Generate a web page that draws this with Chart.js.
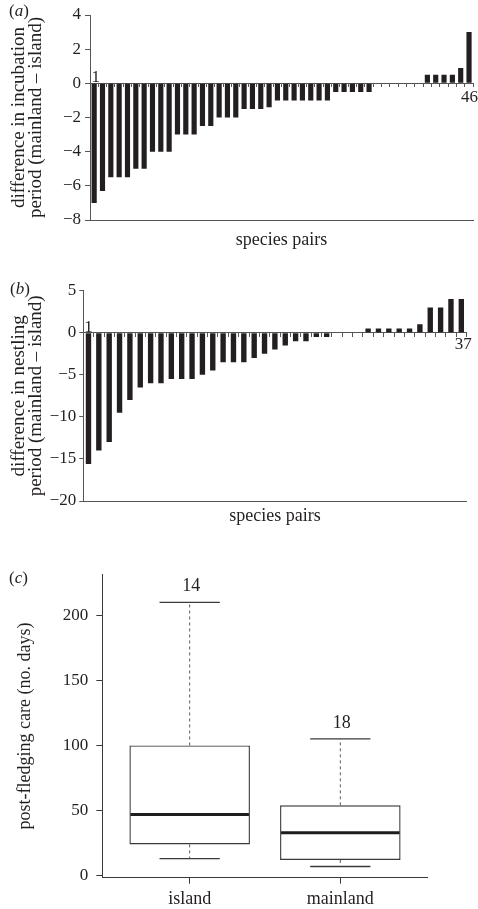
<!DOCTYPE html>
<html><head><meta charset="utf-8">
<script src="https://cdn.jsdelivr.net/npm/chart.js@4/dist/chart.umd.min.js"></script>
<style>
html,body{margin:0;padding:0;background:#fff;width:478px;height:909px;overflow:hidden;position:relative;}
canvas{position:absolute;left:0;}
.lab{position:absolute;font-family:"Liberation Serif","Times New Roman",serif;font-size:17px;line-height:17px;color:#231f20;white-space:nowrap;}
</style></head><body>
<canvas id="ca" width="478" height="262" style="top:0;width:478px;height:262px"></canvas>
<canvas id="cb" width="478" height="268" style="top:262px;width:478px;height:268px"></canvas>
<canvas id="cc" width="478" height="379" style="top:530px;width:478px;height:379px"></canvas>
<div class="lab" style="left:9px;top:2px">(<i>a</i>)</div>
<div class="lab" style="left:10px;top:280px">(<i>b</i>)</div>
<div class="lab" style="left:9px;top:569px">(<i>c</i>)</div>
<script>
// ---- data ----
const incubationDiff = [-7, -6.3, -5.5, -5.5, -5.5, -5, -5, -4, -4, -4, -3, -3, -3, -2.5, -2.5, -2, -2, -2,
  -1.5, -1.5, -1.5, -1.4, -1, -1, -1, -1, -1, -1, -1, -0.5, -0.5, -0.5, -0.5, -0.5,
  0, 0, 0, 0, 0, 0, 0.5, 0.5, 0.5, 0.5, 0.9, 3];
const nestlingDiff = [-15.6, -14, -13, -9.5, -8, -6.5, -6, -6, -5.5, -5.5, -5.5, -5, -4.5, -3.5, -3.5, -3.5,
  -3, -2.5, -2, -1.5, -1, -1, -0.5, -0.5, 0, 0, 0, 0.5, 0.5, 0.5, 0.5, 0.5, 1, 3, 3, 4, 4];
const yTicksA = [-8, -6, -4, -2, 0, 2, 4];
const yTicksB = [-20, -15, -10, -5, 0, 5];
const yTicksC = [0, 50, 100, 150, 200];

const groups = ['island', 'mainland'];
const groupN = [14, 18];
const whiskerLow = [13, 7];
const q1 = [24, 12];
const median = [47, 33];
const q3 = [100, 54];
const whiskerHigh = [210, 105];

// ---- style ----
const INK = '#231f20';
const AXIS = '#555555';
const FONT = '"Liberation Serif", "Times New Roman", serif';
const minus = v => String(v).replace('-', '\u2212');

const endLabelPlugin = {
  id: 'endLabels',
  afterDatasetsDraw(chart, args, o) {
    const xs = chart.scales.x, ys = chart.scales.y, ctx = chart.ctx;
    const labels = chart.data.labels, n = labels.length;
    const y0 = ys.getPixelForValue(0);
    ctx.save();
    ctx.fillStyle = INK;
    ctx.font = '17px ' + FONT;
    ctx.textAlign = 'center';
    ctx.textBaseline = 'alphabetic';
    ctx.fillText(labels[0], xs.getPixelForValue(0) + o.firstDx, y0 - o.firstGap);
    ctx.textBaseline = 'top';
    ctx.fillText(labels[n - 1], xs.getPixelForValue(n - 1) + o.lastDx, y0 + o.lastGap);
    ctx.restore();
  }
};

function barPanel(id, values, ticks, c) {
  const labels = values.map((_, i) => String(i + 1));
  return new Chart(document.getElementById(id), {
    type: 'bar',
    data: { labels, datasets: [{ data: values, backgroundColor: INK, borderWidth: 0,
      barPercentage: c.barPct, categoryPercentage: 1, xAxisID: 'x', yAxisID: 'y' }] },
    options: {
      responsive: false, animation: false, events: [],
      layout: { padding: { left: 0, right: c.padR, top: c.padT, bottom: 0 } },
      plugins: { legend: { display: false }, tooltip: { enabled: false },
        endLabels: { firstDx: c.firstDx, firstGap: c.firstGap, lastDx: c.lastDx, lastGap: c.lastGap } },
      scales: {
        x: { type: 'category', position: 'bottom', offset: true,
          grid: { display: false }, border: { display: true, color: AXIS, width: 1 },
          ticks: { display: false },
          title: { display: true, text: 'species pairs', color: INK, font: { family: FONT, size: 18 },
            padding: { top: 0, bottom: c.xTitlePad } },
          afterFit: s => { s.height = c.xH; } },
        x2: { axis: 'x', type: 'category', position: { y: 0 }, offset: true,
          grid: { display: true, offset: true, drawOnChartArea: false, drawTicks: true,
            tickLength: c.zeroTick, color: AXIS, lineWidth: 1 },
          border: { display: true, color: AXIS, width: 1 },
          ticks: { display: false } },
        y: { type: 'linear', position: 'left', min: ticks[0], max: ticks[ticks.length - 1],
          afterBuildTicks: s => { s.ticks = ticks.map(v => ({ value: v })); },
          grid: { display: true, drawOnChartArea: false, tickLength: c.yTick, color: AXIS },
          border: { display: true, color: AXIS, width: 1 },
          ticks: { color: INK, font: { family: FONT, size: 17 }, padding: c.yLabPad, callback: v => minus(v) },
          title: { display: true, text: c.yTitle, color: INK,
            font: { family: FONT, size: 19, lineHeight: 0.9 }, padding: { top: c.yTitlePad, bottom: 0 } },
          afterFit: s => { s.width = c.yW; } }
      }
    },
    plugins: [endLabelPlugin]
  });
}

barPanel('ca', incubationDiff, yTicksA, {
  barPct: 0.62, padR: 4.8, padT: 15, xH: 42, xTitlePad: 11, yW: 90, yTick: 5, yLabPad: 4,
  yTitlePad: 10, zeroTick: 3, firstDx: 1.5, firstGap: 1.5, lastDx: 0.5, lastGap: 5.5,
  yTitle: ['difference in incubation', 'period (mainland \u2013 island)']
});
barPanel('cb', nestlingDiff, yTicksB, {
  barPct: 0.52, padR: 11.5, padT: 28.7, xH: 29, xTitlePad: 2.5, yW: 83.3, yTick: 4, yLabPad: 3,
  yTitlePad: 10, zeroTick: 4, firstDx: 0, firstGap: 0.5, lastDx: 2, lastGap: 3.5,
  yTitle: ['difference in nestling', 'period (mainland \u2013 island)']
});

// ---- panel (c): box plot ----
const boxExtras = {
  id: 'boxExtras',
  afterDatasetsDraw(chart) {
    const xs = chart.scales.x, ys = chart.scales.y, ctx = chart.ctx;
    const seg = (x1, y1, x2, y2) => { ctx.beginPath(); ctx.moveTo(x1, y1); ctx.lineTo(x2, y2); ctx.stroke(); };
    ctx.save();
    groups.forEach((g, i) => {
      const pos = i + 1;
      const cx = xs.getPixelForValue(pos);
      const half = xs.getPixelForValue(pos + 0.4) - cx;
      const capHalf = xs.getPixelForValue(pos + 0.2) - cx;
      const yHi = ys.getPixelForValue(whiskerHigh[i]), yLo = ys.getPixelForValue(whiskerLow[i]);
      const yQ1 = ys.getPixelForValue(q1[i]), yQ3 = ys.getPixelForValue(q3[i]);
      const yMed = ys.getPixelForValue(median[i]);
      ctx.strokeStyle = '#5a5a5a'; ctx.lineWidth = 1; ctx.setLineDash([3, 3]);
      seg(cx, yQ3, cx, yHi); seg(cx, yQ1, cx, yLo);
      ctx.setLineDash([]);
      ctx.strokeStyle = '#3a3a3a'; ctx.lineWidth = 1.3;
      seg(cx - capHalf, yHi, cx + capHalf, yHi); seg(cx - capHalf, yLo, cx + capHalf, yLo);
      ctx.strokeStyle = '#1e1e1e'; ctx.lineWidth = 3;
      seg(cx - half + 1, yMed, cx + half - 1, yMed);
      ctx.fillStyle = INK; ctx.font = '18px ' + FONT; ctx.textAlign = 'center'; ctx.textBaseline = 'middle';
      ctx.fillText(String(groupN[i]), cx + 1.5, yHi - 16);
    });
    ctx.restore();
  }
};

new Chart(document.getElementById('cc'), {
  type: 'bar',
  data: { datasets: [{
    data: groups.map((g, i) => ({ x: i + 1, y: [q1[i], q3[i]] })),
    backgroundColor: '#ffffff', borderColor: '#3a3a3a', borderWidth: 1.4, borderSkipped: false,
    barPercentage: 1, categoryPercentage: 0.8
  }] },
  options: {
    responsive: false, animation: false, events: [],
    layout: { padding: { left: 0, right: 50.3, top: 44.3, bottom: 0 } },
    plugins: { legend: { display: false }, tooltip: { enabled: false } },
    scales: {
      x: { type: 'linear', position: 'bottom', min: 0.42, max: 2.58, offset: false,
        afterBuildTicks: s => { s.ticks = groups.map((g, i) => ({ value: i + 1 })); },
        grid: { display: true, offset: false, drawOnChartArea: false, tickLength: 6, color: '#3a3a3a' },
        border: { display: true, color: '#3a3a3a', width: 1 },
        ticks: { color: INK, font: { family: FONT, size: 18 }, padding: 5, maxRotation: 0,
          callback: v => groups[Math.round(v) - 1] },
        afterFit: s => { s.height = 31.3; } },
      y: { type: 'linear', position: 'left', min: -1.6, max: 231.5,
        afterBuildTicks: s => { s.ticks = yTicksC.map(v => ({ value: v })); },
        grid: { display: true, drawOnChartArea: false, tickLength: 6, color: '#3a3a3a' },
        border: { display: true, color: '#3a3a3a', width: 1 },
        ticks: { color: INK, font: { family: FONT, size: 17 }, padding: 8, callback: v => minus(v) },
        title: { display: true, text: 'post-fledging care (no. days)', color: INK,
          font: { family: FONT, size: 18 }, padding: { top: 14, bottom: 0 } },
        afterFit: s => { s.width = 102.3; } }
    }
  },
  plugins: [boxExtras]
});
</script>
</body></html>
